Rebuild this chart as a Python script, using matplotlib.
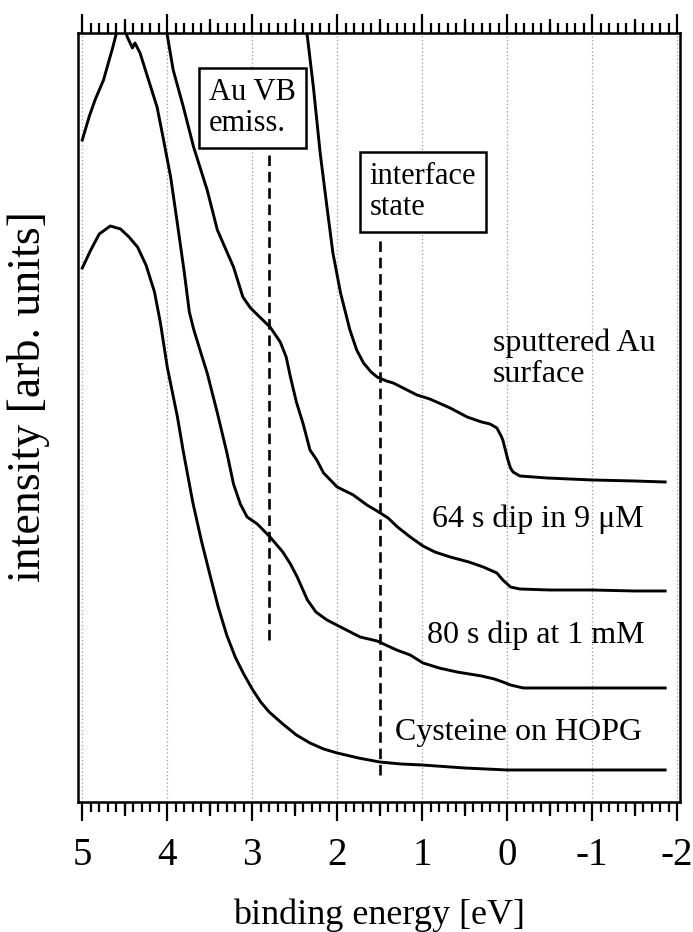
import numpy as np
import matplotlib
matplotlib.use("Agg")
import matplotlib.pyplot as plt
from matplotlib.ticker import MultipleLocator, FixedLocator

plt.rcParams['font.family'] = ['Liberation Serif', 'DejaVu Serif']

# spectra (binding energy in eV, intensity in arb. units)
hopg_x = [5.0, 4.9, 4.8, 4.67, 4.55, 4.45, 4.35, 4.25, 4.15, 4.08, 4.0, 3.88,
          3.81, 3.7, 3.6, 3.5, 3.4, 3.3, 3.2, 3.1, 3.0, 2.9, 2.8, 2.64, 2.48,
          2.32, 2.16, 2.0, 1.75, 1.5, 1.25, 1.0, 0.5, 0.0, -1.0, -1.86]
hopg_y = [534, 552, 568, 576, 573, 565, 555, 537, 510, 479, 435, 385,
          350, 300, 262, 228, 195, 167, 145, 128, 113, 100, 90, 78, 67,
          59, 53, 49, 44, 40, 38, 37, 34, 32, 32, 32]

dip80_x = [5.0, 4.92, 4.85, 4.75, 4.64, 4.58, 4.52, 4.47, 4.41, 4.38, 4.32,
           4.22, 4.12, 4.05, 3.96, 3.88, 3.8, 3.74, 3.69, 3.6, 3.53, 3.41,
           3.3, 3.22, 3.14, 3.06, 2.94, 2.79, 2.64, 2.55, 2.47, 2.35, 2.25,
           2.12, 1.96, 1.73, 1.53, 1.3, 1.14, 0.99, 0.8, 0.59, 0.3, 0.15,
           0.05, -0.04, -0.19, -0.5, -1.0, -1.5, -1.86]
dip80_y = [662, 685, 702, 722, 755, 775, 778, 765, 754, 759, 749,
           722, 695, 665, 625, 578, 530, 490, 473, 448, 429, 389,
           350, 318, 298, 285, 278, 265, 250, 238, 225, 202, 190,
           182, 175, 165, 161, 152, 147, 139, 134, 130, 126, 123,
           120, 117, 114, 114, 114, 114, 114]

dip64_x = [4.02, 4.0, 3.93, 3.81, 3.69, 3.53, 3.41, 3.22, 3.11, 3.02, 2.9,
           2.79, 2.67, 2.6, 2.55, 2.48, 2.4, 2.32, 2.24, 2.16, 2.0, 1.81,
           1.65, 1.53, 1.4, 1.29, 1.14, 0.99, 0.85, 0.67, 0.45, 0.28, 0.12,
           0.05, -0.04, -0.15, -0.5, -1.0, -1.5, -1.86]
dip64_y = [780, 767, 732, 695, 655, 612, 572, 535, 505, 494, 484,
           475, 460, 445, 425, 400, 378, 352, 342, 329, 315, 307,
           297, 291, 284, 275, 265, 256, 250, 245, 240, 235, 229,
           222, 215, 213, 212, 212, 211, 211]

sput_x = [2.42, 2.35, 2.28, 2.2, 2.12, 2.05, 1.96, 1.85, 1.77, 1.69, 1.6,
          1.53, 1.42, 1.34, 1.2, 1.06, 0.91, 0.75, 0.67, 0.47, 0.3, 0.2,
          0.12, 0.07, 0.05, 0.02, -0.01, -0.04, -0.07, -0.15, -0.47, -1.0,
          -1.5, -1.86]
sput_y = [800, 765, 715, 649, 595, 549, 509, 472, 452, 439, 430,
          425, 421, 419, 413, 407, 403, 397, 394, 385, 380, 378,
          374, 366, 362, 352, 342, 334, 330, 326, 324, 322,
          321, 320]

au_vb_x = 2.8        # Au VB emission marker
interface_x = 1.5    # interface state marker

fig = plt.figure(figsize=(6.93, 9.32), dpi=100)
ax = fig.add_axes([0.1126, 0.1395, 0.8686, 0.8251])

lw = 2.1
for xs, ys in [(hopg_x, hopg_y), (dip80_x, dip80_y), (dip64_x, dip64_y), (sput_x, sput_y)]:
    ax.plot(xs, ys, color='black', lw=lw, solid_joinstyle='round')

ax.vlines(au_vb_x, 162, 647, colors='black', lw=1.9, linestyles=(0, (4, 2.2)))
ax.vlines(interface_x, 27, 564, colors='black', lw=1.9, linestyles=(0, (4, 2.2)))

ax.set_xlim(5.05, -2.035)
ax.set_ylim(0, 769)
ax.set_yticks([])

ax.xaxis.set_major_locator(MultipleLocator(1))
ax.xaxis.set_minor_locator(MultipleLocator(0.1))
ax.grid(axis='x', which='major', linestyle=(0, (1, 2)), color='#999999', lw=0.9)
ax.tick_params(axis='x', which='both', direction='out', top=True, bottom=True,
               width=1.6, color='black')
ax.tick_params(axis='x', which='major', length=14, labelsize=28, pad=11)
ax.tick_params(axis='x', which='minor', length=7)
ax.set_xticks([5, 4, 3, 2, 1, 0, -1, -2])
ax.set_xticklabels(['5', '4', '3', '2', '1', '0', '-1', '-2'])
for sp in ax.spines.values():
    sp.set_linewidth(1.8)

# medium ticks at the half eV positions
halves = [4.5, 3.5, 2.5, 1.5, 0.5, -0.5, -1.5]
for side in ['bottom', 'top']:
    sec = ax.secondary_xaxis(side)
    sec.xaxis.set_major_locator(FixedLocator(halves))
    sec.tick_params(axis='x', direction='out', length=10, width=1.6,
                    labelbottom=False, labeltop=False)
    sec.spines[side].set_visible(False)

ax.set_xlabel('binding energy [eV]', fontsize=26, labelpad=18)
ax.set_ylabel('intensity [arb. units]', fontsize=33, va='center')
ax.yaxis.set_label_coords(-0.083, 0.527)

box = dict(boxstyle='square,pad=0.33', fc='white', ec='black', lw=1.8)
ax.text(3.0, 694, 'Au VB\nemiss.', fontsize=22, ha='center', va='center',
        multialignment='left', linespacing=1.1, bbox=box)
ax.text(0.99, 610, 'interface\nstate', fontsize=22, ha='center', va='center',
        multialignment='left', linespacing=1.1, bbox=box)

ax.text(0.165, 473, 'sputtered Au\nsurface', fontsize=23, ha='left', va='top',
        linespacing=1.08)
ax.text(0.882, 275, '64 s dip in 9 \u03bcM', fontsize=23, ha='left', va='baseline')
ax.text(0.941, 159, '80 s dip at 1 mM', fontsize=23, ha='left', va='baseline')
ax.text(1.318, 62, 'Cysteine on HOPG', fontsize=23, ha='left', va='baseline')

fig.savefig('out.png', dpi=100)
